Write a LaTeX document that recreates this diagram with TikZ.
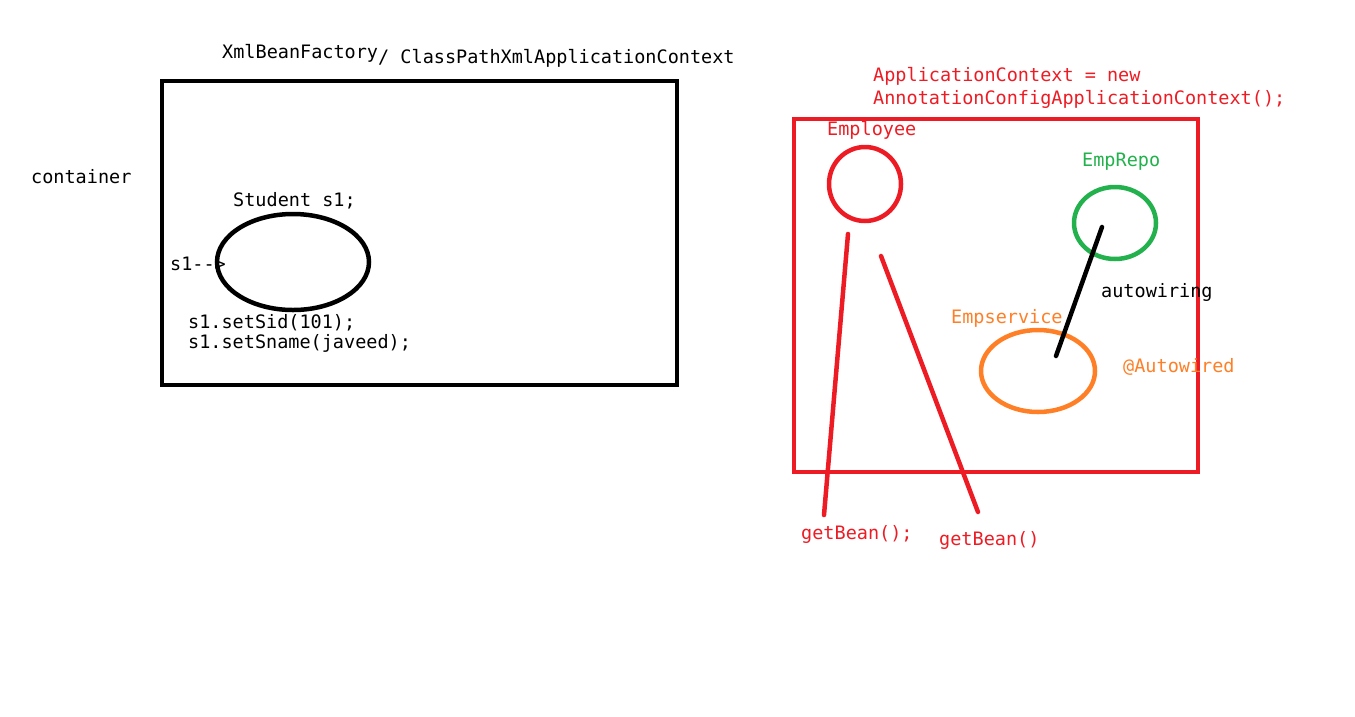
\documentclass[tikz,border=0pt]{standalone}
\usepackage{fontspec}
\usepackage{tikz}
\usetikzlibrary{positioning,shapes.geometric}
\newfontfamily\codefont{DejaVu Sans Mono}
\definecolor{paintred}{RGB}{237,28,36}
\definecolor{paintgreen}{RGB}{34,177,76}
\definecolor{paintorange}{RGB}{255,127,39}

\begin{document}
\begin{tikzpicture}[x=1pt,y=-1pt,
	code/.style={inner sep=0pt, anchor=west, yshift=-1.5pt, font=\codefont\fontsize{18.5}{22}\selectfont},
	bean/.style={ellipse, draw, line width=4.5pt, inner sep=0pt},
	wire/.style={line width=4.5pt, line cap=round}]
		\useasboundingbox (0,0) rectangle (1355,716);
		% left side: xml container
		\draw (222,52) node [code] (factory) {XmlBeanFactory};
		\draw (378,57) node [code] (ctx) {/ ClassPathXmlApplicationContext};
		\draw (31,175) node [code] (container) {container};
		\draw [line width=4.5pt] (162,81) rectangle (677,385);
		\draw (233,199) node [code] (decl) {Student s1;};
		\draw (293,262) node [bean, minimum width=152pt, minimum height=96pt] (student) {};
		\draw (170,262) node [code] (ref) {s1-->};
		\draw (188,321) node [code] (setsid) {s1.setSid(101);};
		\draw (188,342) node [code] (setname) {s1.setSname(javeed);};
		% right side: annotation container
		\draw (873,75) node [code, text=paintred] (appctx) {ApplicationContext = new};
		\draw (873,98) node [code, text=paintred] (annctx) {AnnotationConfigApplicationContext();};
		\draw [paintred, line width=4.5pt] (794,119) rectangle (1198,472);
		\draw (827,129) node [code, text=paintred] (emplabel) {Employee};
		\draw (865,184) node [bean, paintred, minimum width=72pt, minimum height=74pt] (employee) {};
		\draw (1082,160) node [code, text=paintgreen] (repolabel) {EmpRepo};
		\draw (1115,223) node [bean, paintgreen, minimum width=82pt, minimum height=72pt] (repo) {};
		\draw (951,317) node [code, text=paintorange] (servlabel) {Empservice};
		\draw (1038,371) node [bean, paintorange, minimum width=114pt, minimum height=82pt] (service) {};
		\draw (1101,291) node [code] (autowiring) {autowiring};
		\draw (1123,365) node [code, text=paintorange] (autowired) {@Autowired};
		\draw (801,533) node [code, text=paintred] (get1) {getBean();};
		\draw (939,539) node [code, text=paintred] (get2) {getBean()};
		\coordinate (repoin) at (1102,227);
		\coordinate (servin) at (1056,356);
		\coordinate (emp1) at (848,234);
		\coordinate (emp2) at (881,256);
		\coordinate (end1) at (824,515);
		\coordinate (end2) at (978,512);
		\draw [wire] (repoin) -- (servin);
		\draw [wire, paintred] (emp1) -- (end1);
		\draw [wire, paintred] (emp2) -- (end2);
	\end{tikzpicture}
\end{document}
